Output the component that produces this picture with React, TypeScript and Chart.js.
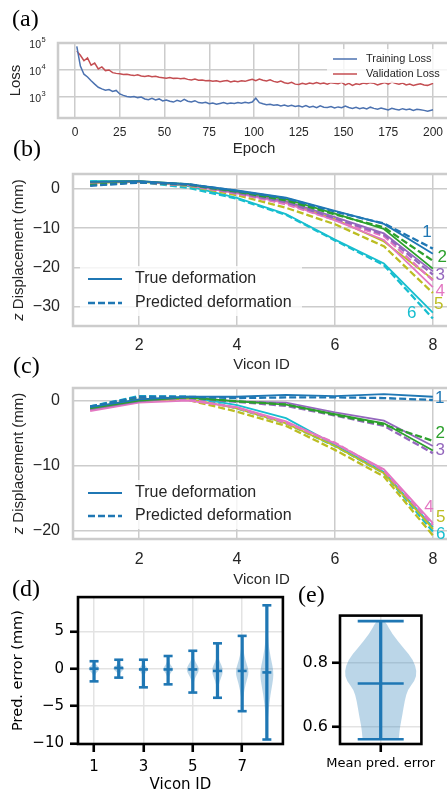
import React, { useEffect, useRef } from 'react';
import { Chart, registerables } from 'chart.js';
Chart.register(...registerables);

const SANS = '"Liberation Sans", Arial, sans-serif';
const DEJAVU = '"DejaVu Sans", sans-serif';
const SERIF = '"Liberation Serif", "Times New Roman", serif';
const TEXT = '#262626';
const GRID = '#cccccc';
const BLUE = '#1f77b4';

// ---------- (a) loss curves ----------
const EPOCHS = [1,3,5,7,9,11,13,15,17,19,21,23,25,27,29,31,33,35,37,39,41,43,45,47,49,51,53,55,57,59,61,63,65,67,69,71,73,75,77,79,81,83,85,87,89,91,93,95,97,99,101,103,105,107,109,111,113,115,117,119,121,123,125,127,129,131,133,135,137,139,141,143,145,147,149,151,153,155,157,159,161,163,165,167,169,171,173,175,177,179,181,183,185,187,189,191,193,195,197,200];
const TRAIN_LOSS = [
  75000,14000,7000,5500,4000,3000,2300,2000,1800,1900,
  1600,1750,1300,1150,1050,1000,1050,950,1000,850,
  800,900,780,850,720,780,700,650,750,680,
  820,700,650,730,620,600,640,560,600,540,
  580,620,560,600,580,620,590,640,600,650,
  900,620,560,520,540,500,520,470,500,460,
  490,450,470,430,480,420,450,400,470,420,
  410,440,390,430,400,460,410,380,420,370,
  400,360,420,380,350,390,360,330,380,350,
  330,370,340,360,320,350,340,320,300,340];
const VAL_LOSS = [
  50000,35000,22000,28000,15000,18000,11000,13000,9500,10000,
  8000,7500,7200,6800,7000,6500,6200,6600,6000,5800,
  6100,5600,5900,5400,5200,5000,5300,4900,5000,4700,
  4900,4500,4300,4600,4200,4300,4000,4100,3800,4000,
  3700,3900,4100,3600,3900,3700,4000,3800,4200,4500,
  4000,4600,4200,3900,4300,3800,3500,3900,3400,3200,
  3500,3000,2900,3200,3000,3300,3100,3400,3100,3300,
  3000,3400,3200,3100,3500,2800,3200,2700,3100,2900,
  3300,3100,3400,3200,2800,3100,3400,3000,3600,3200,
  3000,3300,2800,3000,2700,2900,3100,2800,2700,3200];
const EPOCH_TICKS = [0,25,50,75,100,125,150,175,200];
const LOSS_TICKS = [1000,10000,100000];

// ---------- (b), (c) deformation ----------
const VICON_IDS = [1,2,3,4,5,6,7,8];
const VICON_TICKS = [2,4,6,8];
const SERIES_NAMES = ['1','2','3','4','5','6'];
const SERIES_COLORS = ['#1f77b4','#2ca02c','#9467bd','#e377c2','#bcbd22','#17becf'];

const B_TRUE = [
  [1.8, 2.0, 1.2, -0.4, -2.2, -5.6, -8.9, -16.5],
  [1.8, 2.0, 1.2, -0.6, -2.6, -6.3, -10.2, -20.3],
  [1.7, 1.9, 1.1, -0.9, -3.1, -7.2, -11.3, -21.0],
  [1.6, 1.9, 1.0, -1.1, -3.6, -8.0, -13.0, -25.0],
  [1.5, 1.8, 1.0, -1.0, -3.4, -7.7, -13.4, -23.0],
  [2.0, 2.0, 0.7, -2.3, -6.4, -12.9, -19.0, -31.5],
];
const B_PRED = [
  [0.8, 1.6, 1.2, -0.5, -2.4, -5.8, -8.8, -15.2],
  [1.0, 1.7, 1.1, -0.7, -2.9, -6.5, -9.8, -18.3],
  [1.0, 1.7, 1.0, -1.0, -3.4, -7.5, -11.6, -21.8],
  [1.1, 1.7, 0.9, -1.2, -3.9, -7.9, -12.0, -23.3],
  [1.3, 1.8, 0.8, -1.6, -4.8, -9.0, -14.6, -26.5],
  [1.9, 1.8, 0.3, -2.5, -6.6, -13.1, -19.4, -33.0],
];
const B_YTICKS = [0,-10,-20,-30];
const B_LABEL_POS = [[7.88,-11.1],[8.19,-17.5],[8.15,-22.0],[8.15,-26.1],[8.12,-29.4],[7.57,-31.6]];

const C_TRUE = [
  [-1.0, 0.2, 0.6, 0.6, 0.9, 0.7, 1.0, 0.6],
  [-1.2, 0.0, 0.5, -0.1, -0.6, -2.1, -3.5, -7.7],
  [-1.3, -0.1, 0.5, -0.1, -0.3, -1.8, -3.1, -7.0],
  [-1.6, -0.3, 0.0, -1.0, -3.2, -6.6, -10.6, -18.9],
  [-1.4, -0.1, 0.3, -1.2, -3.5, -7.0, -11.2, -19.8],
  [-1.2, 0.1, 0.6, -0.7, -2.7, -6.8, -11.0, -19.5],
];
const C_PRED = [
  [-0.9, 0.6, 0.6, 0.4, 0.5, 0.5, 0.4, 0.1],
  [-1.0, 0.5, 0.5, -0.1, -0.6, -2.2, -3.7, -6.2],
  [-1.1, 0.4, 0.4, -0.2, -0.8, -2.3, -3.9, -8.1],
  [-1.3, 0.3, 0.2, -1.1, -3.4, -6.5, -10.8, -19.2],
  [-1.4, 0.2, 0.1, -1.7, -3.9, -7.6, -11.7, -20.8],
  [-0.9, 0.7, 0.6, -1.2, -3.5, -7.0, -11.2, -20.2],
];
const C_YTICKS = [0,-10,-20];
const C_LABEL_POS = [[8.14,0.4],[8.15,-5.0],[8.15,-7.7],[7.92,-16.5],[8.16,-18.0],[8.16,-20.6]];

// ---------- (d) per-marker prediction error ----------
const D_IDS = [1,2,3,4,5,6,7,8];
const D_MAX = [1.0, 1.2, 1.2, 1.7, 2.4, 3.4, 4.4, 8.5];
const D_MIN = [-1.7, -1.2, -2.5, -2.1, -3.2, -3.9, -5.7, -9.5];
const D_MEAN = [0.0, 0.1, -0.1, -0.1, -0.1, -0.3, -0.3, -0.5];
const D_XTICKS = [1,3,5,7];
const D_YTICKS = [-10,-5,0,5];
// violin outlines: [value, half width]
const D_PROFILES = [
  [[-1.7,0.005],[-0.8,0.03],[-0.35,0.15],[0,0.24],[0.35,0.15],[0.7,0.03],[1.0,0.005]],
  [[-1.2,0.005],[-0.6,0.04],[-0.3,0.15],[0.05,0.24],[0.35,0.15],[0.6,0.04],[1.2,0.005]],
  [[-2.5,0.005],[-0.8,0.03],[-0.35,0.14],[-0.1,0.21],[0.2,0.14],[0.6,0.03],[1.2,0.005]],
  [[-2.1,0.005],[-0.9,0.04],[-0.4,0.15],[-0.1,0.22],[0.3,0.15],[0.8,0.04],[1.7,0.005]],
  [[-3.2,0.005],[-1.5,0.05],[-0.7,0.18],[-0.1,0.27],[0.5,0.18],[1.2,0.05],[2.4,0.005]],
  [[-3.9,0.005],[-2.2,0.04],[-1.2,0.15],[-0.3,0.24],[0.5,0.16],[1.3,0.04],[3.4,0.005]],
  [[-5.7,0.005],[-3.8,0.04],[-2.0,0.14],[-0.4,0.29],[1.0,0.14],[2.6,0.04],[4.4,0.005]],
  [[-9.5,0.005],[-6.5,0.04],[-3.5,0.14],[-0.7,0.30],[1.5,0.15],[4.0,0.04],[8.5,0.005]],
];

// ---------- (e) mean prediction error ----------
const E_LABELS = ['Mean pred. error'];
const E_MAX = [0.9325];
const E_MIN = [0.56];
const E_MEAN = [0.736];
const E_YTICKS = [0.6, 0.8];
const E_PROFILE = [
  [0.56,0.22],[0.565,0.225],[0.597,0.235],[0.634,0.265],[0.681,0.294],[0.7175,0.333],
  [0.745,0.42],[0.773,0.446],[0.81,0.40],[0.847,0.284],[0.8935,0.137],[0.9306,0.06],[0.9325,0.03],
];

// ---------- helpers ----------
const fixTicks = (vals: number[]) => (scale: any) => { scale.ticks = vals.map(v => ({ value: v })); };
const minus = (v: any) => String(v).replace('-', '\u2212');
const fitH = (h: number) => (s: any) => { s.height = h; s.paddingLeft = 0; s.paddingRight = 0; s.paddingTop = 0; s.paddingBottom = 0; };
const fitW = (w: number) => (s: any) => { s.width = w; s.paddingLeft = 0; s.paddingRight = 0; s.paddingTop = 0; s.paddingBottom = 0; };

const baseOptions = (padding: any) => ({
  responsive: false,
  maintainAspectRatio: false,
  animation: false,
  devicePixelRatio: 1,
  events: [],
  layout: { padding },
  plugins: { legend: { display: false }, tooltip: { enabled: false }, title: { display: false } },
});

const boxPlugin = (color: string, width: number) => ({
  id: 'box',
  afterDatasetsDraw(chart: any) {
    const { ctx, chartArea: a } = chart;
    ctx.save();
    ctx.strokeStyle = color;
    ctx.lineWidth = width;
    ctx.strokeRect(a.left, a.top, a.right - a.left, a.bottom - a.top);
    ctx.restore();
  },
});

type LegendItem = { label: string; color: string; dash: number[]; width: number };
function drawLegend(ctx: CanvasRenderingContext2D, items: LegendItem[], x0: number, x1: number, tx: number, ys: number[], font: string, box: number[]) {
  ctx.save();
  ctx.fillStyle = 'rgba(255,255,255,0.8)';
  ctx.fillRect(box[0], box[1], box[2], box[3]);
  items.forEach((it, i) => {
    ctx.beginPath();
    ctx.strokeStyle = it.color;
    ctx.lineWidth = it.width;
    ctx.setLineDash(it.dash);
    ctx.moveTo(x0, ys[i]);
    ctx.lineTo(x1, ys[i]);
    ctx.stroke();
    ctx.setLineDash([]);
    ctx.fillStyle = TEXT;
    ctx.font = font;
    ctx.textAlign = 'left';
    ctx.textBaseline = 'middle';
    ctx.fillText(it.label, tx, ys[i]);
  });
  ctx.restore();
}

function drawViolin(ctx: CanvasRenderingContext2D, xs: any, ys: any, cx: number, profile: number[][]) {
  const pts: number[][] = [];
  profile.forEach(([v, w]) => pts.push([xs.getPixelForValue(cx + w), ys.getPixelForValue(v)]));
  for (let i = profile.length - 1; i >= 0; i--) {
    const [v, w] = profile[i];
    pts.push([xs.getPixelForValue(cx - w), ys.getPixelForValue(v)]);
  }
  const n = pts.length;
  const mid = (a: number[], b: number[]) => [(a[0] + b[0]) / 2, (a[1] + b[1]) / 2];
  ctx.beginPath();
  const m0 = mid(pts[n - 1], pts[0]);
  ctx.moveTo(m0[0], m0[1]);
  for (let i = 0; i < n; i++) {
    const p = pts[i];
    const m = mid(p, pts[(i + 1) % n]);
    ctx.quadraticCurveTo(p[0], p[1], m[0], m[1]);
  }
  ctx.closePath();
  ctx.fill();
}

function zTitle(ctx: CanvasRenderingContext2D, x: number, y: number) {
  ctx.save();
  ctx.translate(x, y);
  ctx.rotate(-Math.PI / 2);
  ctx.fillStyle = TEXT;
  ctx.textBaseline = 'middle';
  ctx.textAlign = 'left';
  const f1 = `italic 15px ${SANS}`;
  const f2 = `15px ${SANS}`;
  const rest = ' Displacement (mm)';
  ctx.font = f1; const w1 = ctx.measureText('z').width;
  ctx.font = f2; const w2 = ctx.measureText(rest).width;
  const start = -(w1 + w2) / 2;
  ctx.font = f1; ctx.fillText('z', start, 0);
  ctx.font = f2; ctx.fillText(rest, start + w1, 0);
  ctx.restore();
}

// ---------- chart configs ----------
function configA() {
  return {
    type: 'line',
    data: {
      datasets: [
        { data: EPOCHS.map((e, i) => ({ x: e, y: TRAIN_LOSS[i] })), borderColor: '#4c72b0', borderWidth: 1.5, pointRadius: 0, tension: 0 },
        { data: EPOCHS.map((e, i) => ({ x: e, y: VAL_LOSS[i] })), borderColor: '#c44e52', borderWidth: 1.5, pointRadius: 0, tension: 0 },
      ],
    },
    options: {
      ...baseOptions({ top: 15, right: 10, left: 0, bottom: 0 }),
      scales: {
        x: {
          type: 'linear', min: -9.5, max: 209.5, bounds: 'data',
          afterBuildTicks: fixTicks(EPOCH_TICKS), afterFit: fitH(42),
          grid: { color: GRID, lineWidth: 1.5, drawTicks: false }, border: { display: false },
          ticks: { font: { family: SANS, size: 12 }, color: TEXT, padding: 7.8, maxRotation: 0, autoSkip: false },
          title: { display: true, text: 'Epoch', font: { family: SANS, size: 15 }, color: TEXT, padding: { top: 0, bottom: 2 } },
        },
        y: {
          type: 'logarithmic', min: 167, max: 100000, bounds: 'data',
          afterBuildTicks: fixTicks(LOSS_TICKS), afterFit: fitW(58),
          grid: { color: GRID, lineWidth: 1.5, drawTicks: false }, border: { display: false },
          ticks: { display: false },
          title: { display: true, text: 'Loss', font: { family: SANS, size: 15 }, color: TEXT, padding: { top: 7, bottom: 0 } },
        },
      },
    },
    plugins: [
      boxPlugin(GRID, 2.5),
      {
        id: 'logLabels',
        afterDraw(chart: any) {
          const { ctx } = chart;
          const ys = chart.scales.y;
          ctx.save();
          ctx.fillStyle = TEXT;
          ctx.textBaseline = 'middle';
          LOSS_TICKS.forEach(v => {
            const py = ys.getPixelForValue(v);
            ctx.font = `10.5px ${SANS}`;
            ctx.textAlign = 'right';
            ctx.fillText('10', 41, py + 2.5);
            ctx.font = `7.5px ${SANS}`;
            ctx.textAlign = 'left';
            ctx.fillText(String(Math.round(Math.log10(v))), 41.5, py - 3);
          });
          ctx.restore();
        },
      },
      {
        id: 'legendA',
        afterDatasetsDraw(chart: any) {
          drawLegend(chart.ctx, [
            { label: 'Training Loss', color: '#4c72b0', dash: [], width: 1.5 },
            { label: 'Validation Loss', color: '#c44e52', dash: [], width: 1.5 },
          ], 333, 357, 366, [31, 46], `11px ${SANS}`, [327, 21, 140, 34]);
        },
      },
    ],
  };
}

function configDeform(trueVals: number[][], predVals: number[][], ymin: number, ymax: number, yticks: number[], labelPos: number[][], padTop: number, xHeight: number, xTickPad: number, legendYs: number[]) {
  const datasets: any[] = [];
  trueVals.forEach((vals, i) => {
    datasets.push({ data: VICON_IDS.map((x, j) => ({ x, y: vals[j] })), borderColor: SERIES_COLORS[i], borderWidth: 1.8, pointRadius: 0, tension: 0 });
    datasets.push({ data: VICON_IDS.map((x, j) => ({ x, y: predVals[i][j] })), borderColor: SERIES_COLORS[i], borderWidth: 2.3, borderDash: [7, 3], pointRadius: 0, tension: 0 });
  });
  return {
    type: 'line',
    data: { datasets },
    options: {
      ...baseOptions({ top: padTop, right: 10, left: 0, bottom: 0 }),
      scales: {
        x: {
          type: 'linear', min: 0.65, max: 8.35, bounds: 'data',
          afterBuildTicks: fixTicks(VICON_TICKS), afterFit: fitH(xHeight),
          grid: { color: GRID, lineWidth: 1.5, drawTicks: false }, border: { display: false },
          ticks: { font: { family: SANS, size: 16 }, color: TEXT, padding: xTickPad, maxRotation: 0, autoSkip: false },
          title: { display: true, text: 'Vicon ID', font: { family: SANS, size: 15 }, color: TEXT, padding: { top: 0, bottom: 1 } },
        },
        y: {
          type: 'linear', min: ymin, max: ymax, bounds: 'data',
          afterBuildTicks: fixTicks(yticks), afterFit: fitW(73),
          grid: { color: GRID, lineWidth: 1.5, drawTicks: false }, border: { display: false },
          ticks: { font: { family: SANS, size: 16 }, color: TEXT, padding: 13, callback: minus },
        },
      },
    },
    plugins: [
      boxPlugin(GRID, 2.5),
      {
        id: 'deformExtras',
        afterDatasetsDraw(chart: any) {
          const { ctx, chartArea: a } = chart;
          const xs = chart.scales.x, ys = chart.scales.y;
          ctx.save();
          ctx.font = `17px ${SANS}`;
          ctx.textAlign = 'center';
          ctx.textBaseline = 'middle';
          SERIES_NAMES.forEach((name, i) => {
            ctx.fillStyle = SERIES_COLORS[i];
            ctx.fillText(name, xs.getPixelForValue(labelPos[i][0]), ys.getPixelForValue(labelPos[i][1]));
          });
          ctx.restore();
          drawLegend(ctx, [
            { label: 'True deformation', color: BLUE, dash: [], width: 1.8 },
            { label: 'Predicted deformation', color: BLUE, dash: [7, 3], width: 2.3 },
          ], 88, 122, 135, legendYs, `16px ${SANS}`, [80, legendYs[0] - 13, 222, legendYs[1] - legendYs[0] + 26]);
          zTitle(ctx, 19, (a.top + a.bottom) / 2);
        },
      },
    ],
  };
}

function configD() {
  return {
    type: 'scatter',
    data: {
      datasets: [
        { type: 'bar', data: D_IDS.map((x, i) => ({ x, y: [D_MIN[i], D_MAX[i]] })), backgroundColor: BLUE, borderWidth: 0, barThickness: 2.6 },
        { type: 'scatter', data: D_IDS.map((x, i) => ({ x, y: D_MAX[i] })), pointStyle: 'line', pointRadius: 4.5, pointBorderWidth: 2.6, pointBorderColor: BLUE, pointBackgroundColor: BLUE },
        { type: 'scatter', data: D_IDS.map((x, i) => ({ x, y: D_MIN[i] })), pointStyle: 'line', pointRadius: 4.5, pointBorderWidth: 2.6, pointBorderColor: BLUE, pointBackgroundColor: BLUE },
        { type: 'scatter', data: D_IDS.map((x, i) => ({ x, y: D_MEAN[i] })), pointStyle: 'line', pointRadius: 4.5, pointBorderWidth: 2.6, pointBorderColor: BLUE, pointBackgroundColor: BLUE },
      ],
    },
    options: {
      ...baseOptions({ top: 7, right: 7, left: 0, bottom: 0 }),
      scales: {
        x: {
          type: 'linear', min: 0.35, max: 8.65, bounds: 'data', offset: false,
          afterBuildTicks: fixTicks(D_XTICKS), afterFit: fitH(51),
          grid: { color: '#e3e3e3', lineWidth: 1.5, drawTicks: true, tickLength: 8, tickWidth: 2.6, tickColor: '#000', offset: false },
          border: { display: false },
          ticks: { font: { family: DEJAVU, size: 15 }, color: '#000', padding: 6, maxRotation: 0, autoSkip: false },
          title: { display: true, text: 'Vicon ID', font: { family: DEJAVU, size: 15 }, color: '#000', padding: { top: 0, bottom: 1 } },
        },
        y: {
          type: 'linear', min: -10.1, max: 9.6, bounds: 'data',
          afterBuildTicks: fixTicks(D_YTICKS), afterFit: fitW(78),
          grid: { color: '#e3e3e3', lineWidth: 1.5, drawTicks: true, tickLength: 8, tickWidth: 2.6, tickColor: '#000' },
          border: { display: false },
          ticks: { font: { family: DEJAVU, size: 15 }, color: '#000', padding: 6, callback: minus },
          title: { display: true, text: 'Pred. error (mm)', font: { family: DEJAVU, size: 14.5 }, color: '#000', padding: { top: 10, bottom: 0 } },
        },
      },
    },
    plugins: [
      {
        id: 'violinsD',
        beforeDatasetsDraw(chart: any) {
          const { ctx, chartArea: a } = chart;
          ctx.save();
          ctx.beginPath();
          ctx.rect(a.left, a.top, a.right - a.left, a.bottom - a.top);
          ctx.clip();
          ctx.fillStyle = 'rgba(31,119,180,0.3)';
          D_PROFILES.forEach((p, i) => drawViolin(ctx, chart.scales.x, chart.scales.y, D_IDS[i], p));
          ctx.restore();
        },
      },
      boxPlugin('#000', 2.6),
    ],
  };
}

function configE() {
  return {
    type: 'scatter',
    data: {
      datasets: [
        { type: 'bar', data: E_MAX.map((m, i) => ({ x: 1 + i, y: [E_MIN[i], m] })), backgroundColor: BLUE, borderWidth: 0, barThickness: 2.6 },
        { type: 'scatter', data: E_MAX.map((m, i) => ({ x: 1 + i, y: m })), pointStyle: 'line', pointRadius: 23, pointBorderWidth: 2.6, pointBorderColor: BLUE, pointBackgroundColor: BLUE },
        { type: 'scatter', data: E_MIN.map((m, i) => ({ x: 1 + i, y: m })), pointStyle: 'line', pointRadius: 23, pointBorderWidth: 2.6, pointBorderColor: BLUE, pointBackgroundColor: BLUE },
        { type: 'scatter', data: E_MEAN.map((m, i) => ({ x: 1 + i, y: m })), pointStyle: 'line', pointRadius: 23, pointBorderWidth: 2.6, pointBorderColor: BLUE, pointBackgroundColor: BLUE },
      ],
    },
    options: {
      ...baseOptions({ top: 8, right: 5, left: 0, bottom: 0 }),
      scales: {
        x: {
          type: 'linear', min: 0.5, max: 1.5, bounds: 'data', offset: false,
          afterBuildTicks: fixTicks([1]), afterFit: fitH(51),
          grid: { color: '#e3e3e3', lineWidth: 1.5, drawTicks: true, tickLength: 8, tickWidth: 2.6, tickColor: '#000', offset: false },
          border: { display: false },
          ticks: { font: { family: DEJAVU, size: 13 }, color: '#000', padding: 4, maxRotation: 0, autoSkip: false, callback: (v: any) => E_LABELS[Math.round(v) - 1] ?? '' },
        },
        y: {
          type: 'linear', min: 0.545, max: 0.95, bounds: 'data',
          afterBuildTicks: fixTicks(E_YTICKS), afterFit: fitW(50),
          grid: { color: '#e3e3e3', lineWidth: 1.5, drawTicks: true, tickLength: 8, tickWidth: 2.6, tickColor: '#000' },
          border: { display: false },
          ticks: { font: { family: DEJAVU, size: 16 }, color: '#000', padding: 4, callback: (v: any) => Number(v).toFixed(1) },
        },
      },
    },
    plugins: [
      {
        id: 'violinE',
        beforeDatasetsDraw(chart: any) {
          const { ctx } = chart;
          ctx.save();
          ctx.fillStyle = 'rgba(31,119,180,0.3)';
          drawViolin(ctx, chart.scales.x, chart.scales.y, 1, E_PROFILE);
          ctx.restore();
        },
      },
      boxPlugin('#000', 2.6),
    ],
  };
}

// ---------- components ----------
function ChartPanel({ left, top, width, height, make }: { left: number; top: number; width: number; height: number; make: () => any }) {
  const ref = useRef<HTMLCanvasElement | null>(null);
  useEffect(() => {
    if (!ref.current) return;
    const chart = new Chart(ref.current, make());
    return () => chart.destroy();
  }, []);
  return <canvas ref={ref} width={width} height={height} style={{ position: 'absolute', left, top, width, height }} />;
}

function PanelLabel({ text, left, centerY }: { text: string; left: number; centerY: number }) {
  return (
    <div style={{ position: 'absolute', left, top: centerY - 14, fontFamily: SERIF, fontSize: 24, lineHeight: '24px', color: '#000' }}>{text}</div>
  );
}

export default function App() {
  return (
    <div style={{ position: 'absolute', left: 0, top: 0, width: 447, height: 795, overflow: 'hidden', background: '#fff' }}>
      <ChartPanel left={0} top={28} width={460} height={132} make={configA} />
      <ChartPanel left={0} top={160} width={460} height={215}
        make={() => configDeform(B_TRUE, B_PRED, -34.9, 3.8, B_YTICKS, B_LABEL_POS, 14, 49, 10.4, [119, 143])} />
      <ChartPanel left={0} top={375} width={460} height={215}
        make={() => configDeform(C_TRUE, C_PRED, -21.35, 1.95, C_YTICKS, C_LABEL_POS, 13, 51, 11.4, [118, 141])} />
      <ChartPanel left={0} top={590} width={290} height={205} make={configD} />
      <ChartPanel left={290} top={590} width={157} height={205} make={configE} />
      <PanelLabel text="(a)" left={12} centerY={20} />
      <PanelLabel text="(b)" left={13} centerY={150} />
      <PanelLabel text="(c)" left={13} centerY={367} />
      <PanelLabel text="(d)" left={12} centerY={590} />
      <PanelLabel text="(e)" left={298} centerY={596} />
    </div>
  );
}
